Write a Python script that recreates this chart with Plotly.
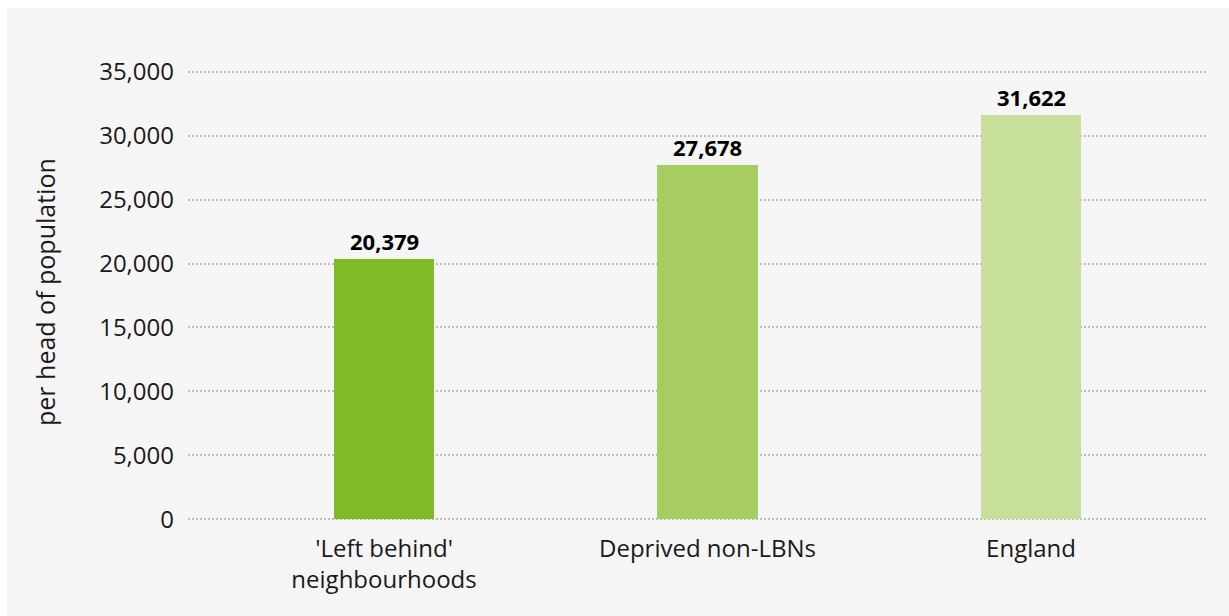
import plotly.graph_objects as go

# Chart data
categories = ["'Left behind'<br>neighbourhoods", "Deprived non-LBNs", "England"]
values = [20379, 27678, 31622]
value_labels = ["20,379", "27,678", "31,622"]
bar_colors = ["#80BA27", "#A6CC62", "#C8DF9C"]
y_ticks = [0, 5000, 10000, 15000, 20000, 25000, 30000, 35000]
y_tick_labels = ["0", "5,000", "10,000", "15,000", "20,000", "25,000", "30,000", "35,000"]
y_title = "per head of population"

W, H = 1229, 616
L, R, T, B = 188, 22, 68, 93
PW, PH = W - L - R, H - T - B

FONT = "Century Gothic, URW Gothic, Open Sans, sans-serif"
GRID = "#BDBDBD"
PANEL = "#F5F5F5"
YPAD = 300  # headroom so the 0 and 35,000 gridlines are drawn


def px_x(p):
    return (p - L) / PW


def px_y(p):
    return (H - B - p) / PH


fig = go.Figure()
fig.add_trace(go.Bar(
    x=list(range(len(categories))),
    y=values,
    marker=dict(color=bar_colors, line=dict(width=0)),
    width=0.31,
    hoverinfo="skip",
))

# value labels above each bar
for i, (v, t) in enumerate(zip(values, value_labels)):
    fig.add_annotation(
        x=i, y=v, text=f"<b>{t}</b>", showarrow=False,
        yanchor="bottom", yshift=1,
        font=dict(family=FONT, size=22, color="#000000"),
    )

# axis title
fig.add_annotation(
    xref="paper", yref="paper", x=px_x(45), y=px_y(292),
    text=y_title, textangle=-90, showarrow=False,
    xanchor="center", yanchor="middle",
    font=dict(family=FONT, size=25, color="#1a1a1a"),
)

# light grey chart panel
fig.add_shape(
    type="rect", xref="paper", yref="paper", layer="below",
    x0=px_x(7), x1=px_x(W + 5), y0=px_y(H + 5), y1=px_y(8),
    fillcolor=PANEL, line=dict(width=0),
)

fig.update_layout(
    width=W, height=H,
    margin=dict(l=L, r=R, t=T, b=B, pad=0),
    paper_bgcolor="#FFFFFF",
    plot_bgcolor="rgba(0,0,0,0)",
    showlegend=False,
    font=dict(family=FONT, size=24, color="#1a1a1a"),
    bargap=0,
)
fig.update_xaxes(
    range=[-0.606, 2.544],
    tickmode="array", tickvals=list(range(len(categories))), ticktext=categories,
    showgrid=False, zeroline=False, showline=False,
    ticks="outside", ticklen=4, tickcolor="rgba(0,0,0,0)",
    tickfont=dict(family=FONT, size=24, color="#1a1a1a"),
    fixedrange=True,
)
fig.update_yaxes(
    range=[-YPAD, 35000 + YPAD],
    tickmode="array", tickvals=y_ticks, ticktext=y_tick_labels,
    showgrid=True, gridcolor=GRID, gridwidth=2, griddash="2px,2px",
    zeroline=False, showline=False,
    ticks="", ticklabelstandoff=13,
    tickfont=dict(family=FONT, size=24, color="#1a1a1a"),
    fixedrange=True,
)

fig.write_html("out.html", config={"displayModeBar": False})
